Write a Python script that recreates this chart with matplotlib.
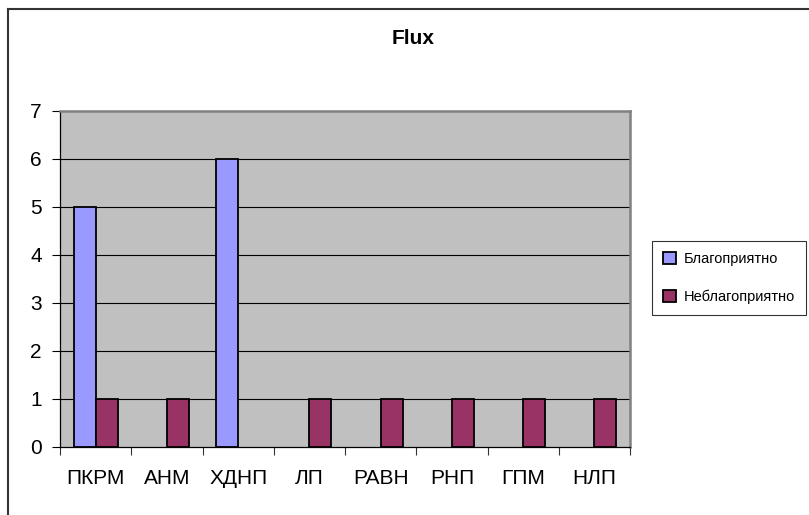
import matplotlib
matplotlib.use("Agg")
import matplotlib.pyplot as plt
import numpy as np
from matplotlib.lines import Line2D

plt.rcParams['font.family'] = ['Liberation Sans', 'DejaVu Sans']

categories = ["ПКРМ", "АНМ", "ХДНП", "ЛП", "РАВН", "РНП", "ГПМ", "НЛП"]
favorable = [5, 0, 6, 0, 0, 0, 0, 0]
unfavorable = [1, 1, 0, 1, 1, 1, 1, 1]
series_names = ["Благоприятно", "Неблагоприятно"]
title = "Flux"

W, H = 809, 515
fig = plt.figure(figsize=(W / 100, H / 100), dpi=100)
ax = fig.add_axes([60 / W, 1 - 447 / H, 570 / W, 336 / H])
ax.set_facecolor("#C0C0C0")

x = np.arange(len(categories))
bw = 0.31
ax.bar(x - bw / 2, favorable, bw, color="#9999FF", edgecolor="black",
       linewidth=[1.3 if v else 0 for v in favorable], label=series_names[0], zorder=3)
ax.bar(x + bw / 2, unfavorable, bw, color="#993366", edgecolor="black",
       linewidth=[1.3 if v else 0 for v in unfavorable], label=series_names[1], zorder=3)

ax.set_xlim(-0.5, len(categories) - 0.5)
ax.set_ylim(0, 7)
ax.set_yticks(range(0, 8))
for yv in range(1, 7):
    ax.axhline(yv, color="black", linewidth=0.8, zorder=1)

ax.set_xticks(x)
ax.set_xticklabels(categories, fontsize=15)
ax.set_xticks(np.arange(-0.5, len(categories)), minor=True)
ax.tick_params(axis="x", which="major", length=0, pad=16)
ax.tick_params(axis="x", which="minor", length=6, width=0.8, color="#333333")
ax.tick_params(axis="y", length=6, width=0.8, labelsize=15, pad=7)

for s in ["top", "right"]:
    ax.spines[s].set_color("#808080")
    ax.spines[s].set_linewidth(1.8)
for s in ["left", "bottom"]:
    ax.spines[s].set_color("black")
    ax.spines[s].set_linewidth(0.9)

fig.text(413 / W, 1 - 38 / H, title, ha="center", va="center",
         fontsize=15, fontweight="bold")

leg = fig.legend(loc="upper left", bbox_to_anchor=(652 / W, 1 - 241 / H),
                 fontsize=10.5, frameon=True, fancybox=False,
                 edgecolor="black", handlelength=0.9, handleheight=0.9,
                 handletextpad=0.5, labelspacing=1.6, borderpad=0.75,
                 borderaxespad=0)
leg.get_frame().set_linewidth(0.8)

fig.add_artist(Line2D([8 / W, 8 / W], [0, 1 - 9 / H], transform=fig.transFigure,
                      color="#333333", linewidth=1.5))
fig.add_artist(Line2D([8 / W, 808 / W], [1 - 9 / H, 1 - 9 / H],
                      transform=fig.transFigure, color="#333333", linewidth=1.5))

fig.savefig("out.png", dpi=100)
